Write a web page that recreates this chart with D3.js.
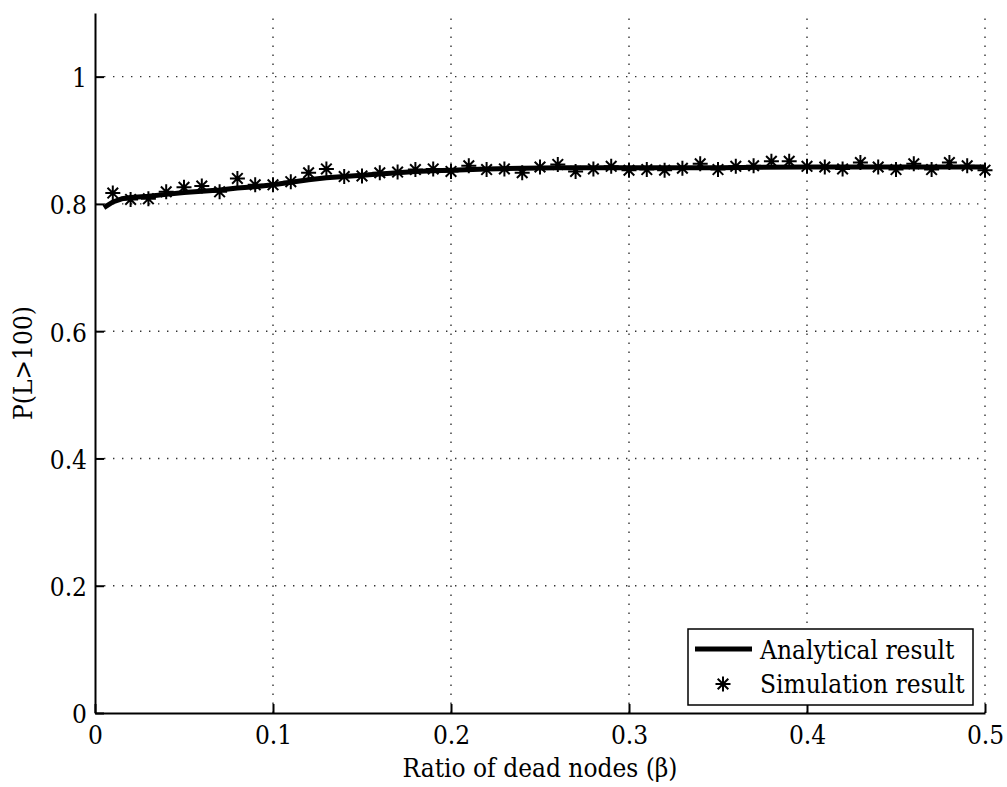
<!DOCTYPE html>
<html>
<head>
<meta charset="utf-8">
<script src="https://cdn.jsdelivr.net/npm/d3@7"></script>
<style>
  body { margin: 0; background: #fff; }
  svg text { font-stretch: condensed; }
</style>
</head>
<body>
<div id="chart"></div>
<script>
// simulation points
const simX = [0.01, 0.02, 0.03, 0.04, 0.05, 0.06, 0.07, 0.08, 0.09, 0.10,
              0.11, 0.12, 0.13, 0.14, 0.15, 0.16, 0.17, 0.18, 0.19, 0.20,
              0.21, 0.22, 0.23, 0.24, 0.25, 0.26, 0.27, 0.28, 0.29, 0.30,
              0.31, 0.32, 0.33, 0.34, 0.35, 0.36, 0.37, 0.38, 0.39, 0.40,
              0.41, 0.42, 0.43, 0.44, 0.45, 0.46, 0.47, 0.48, 0.49, 0.50];
const simY = [0.817, 0.807, 0.808, 0.819, 0.826, 0.828, 0.819, 0.840, 0.830, 0.830,
              0.835, 0.849, 0.855, 0.843, 0.844, 0.849, 0.850, 0.854, 0.855, 0.851,
              0.860, 0.854, 0.855, 0.849, 0.858, 0.862, 0.851, 0.855, 0.859, 0.853,
              0.854, 0.853, 0.856, 0.863, 0.854, 0.859, 0.860, 0.867, 0.867, 0.859,
              0.858, 0.855, 0.865, 0.858, 0.854, 0.863, 0.854, 0.865, 0.860, 0.853];

// analytical curve
const anaX = [0.005, 0.01, 0.015, 0.02, 0.03, 0.04, 0.05, 0.06, 0.07, 0.08,
              0.09, 0.10, 0.11, 0.12, 0.13, 0.14, 0.15, 0.16, 0.17, 0.18,
              0.19, 0.20, 0.22, 0.24, 0.26, 0.28, 0.30, 0.35, 0.40, 0.45, 0.50];
const anaY = [0.794, 0.803, 0.808, 0.810, 0.812, 0.815, 0.818, 0.820, 0.822, 0.825,
              0.827, 0.830, 0.834, 0.838, 0.841, 0.843, 0.845, 0.847, 0.849, 0.851,
              0.852, 0.853, 0.855, 0.856, 0.857, 0.857, 0.857, 0.857, 0.858, 0.858, 0.858];

const xTicks = [0, 0.1, 0.2, 0.3, 0.4, 0.5];
const yTicks = [0, 0.2, 0.4, 0.6, 0.8, 1];
const legendLabels = ["Analytical result", "Simulation result"];

const W = 1007, H = 787;
const FS = 26;
const FONT = '"DejaVu Serif Condensed", "DejaVu Serif", serif';

const x = d3.scaleLinear().domain([0, 0.5]).range([95, 985]);
const y = d3.scaleLinear().domain([0, 1.1]).range([713, 13]);
const fmt = d3.format("~g");

const svg = d3.select("#chart").append("svg")
    .attr("width", W)
    .attr("height", H)
    .attr("viewBox", `0 0 ${W} ${H}`)
    .attr("font-family", FONT);

// grid
const grid = svg.append("g")
    .attr("stroke", "#333")
    .attr("stroke-width", 1.4)
    .attr("stroke-dasharray", "1.4 7.6");

grid.selectAll("line.gx")
    .data(xTicks.filter(d => d > 0))
    .join("line")
    .attr("class", "gx")
    .attr("x1", d => x(d)).attr("x2", d => x(d))
    .attr("y1", y(0)).attr("y2", y(1.1));

grid.selectAll("line.gy")
    .data(yTicks.filter(d => d > 0))
    .join("line")
    .attr("class", "gy")
    .attr("x1", x(0)).attr("x2", x(0.5))
    .attr("y1", d => y(d)).attr("y2", d => y(d));

// axes
const xAxis = d3.axisBottom(x)
    .tickValues(xTicks)
    .tickFormat(fmt)
    .tickSizeInner(-9)
    .tickSizeOuter(0)
    .tickPadding(13);

const yAxis = d3.axisLeft(y)
    .tickValues(yTicks)
    .tickFormat(fmt)
    .tickSizeInner(-9)
    .tickSizeOuter(0)
    .tickPadding(8);

const gx = svg.append("g")
    .attr("transform", `translate(0,${y(0)})`)
    .call(xAxis);

const gy = svg.append("g")
    .attr("transform", `translate(${x(0)},0)`)
    .call(yAxis);

[gx, gy].forEach(g => {
    g.attr("font-family", FONT).attr("font-size", FS);
    g.selectAll("path.domain").attr("stroke", "#000").attr("stroke-width", 2);
    g.selectAll(".tick line").attr("stroke", "#000").attr("stroke-width", 2);
});
gy.selectAll(".tick text").attr("dy", "0.38em");

// axis titles
svg.append("text")
    .attr("x", (x(0) + x(0.5)) / 2)
    .attr("y", 777)
    .attr("text-anchor", "middle")
    .attr("font-size", FS)
    .text("Ratio of dead nodes (β)");

svg.append("text")
    .attr("transform", `translate(32,${y(0.55)}) rotate(-90)`)
    .attr("text-anchor", "middle")
    .attr("font-size", FS)
    .text("P(L>100)");

// analytical line
const line = d3.line()
    .x(d => x(d[0]))
    .y(d => y(d[1]));

svg.append("path")
    .datum(anaX.map((v, i) => [v, anaY[i]]))
    .attr("fill", "none")
    .attr("stroke", "#000")
    .attr("stroke-width", 5)
    .attr("stroke-linejoin", "round")
    .attr("d", line);

// asterisk marker
const star = r => {
    const a = r * Math.SQRT1_2;
    return `M${-r},0L${r},0M0,${-r}L0,${r}M${-a},${-a}L${a},${a}M${-a},${a}L${a},${-a}`;
};

svg.append("g")
    .selectAll("path")
    .data(simX.map((v, i) => [v, simY[i]]))
    .join("path")
    .attr("transform", d => `translate(${x(d[0])},${y(d[1])})`)
    .attr("d", star(7.5))
    .attr("fill", "none")
    .attr("stroke", "#000")
    .attr("stroke-width", 2);

// legend
const lg = svg.append("g");
lg.append("rect")
    .attr("x", 688).attr("y", 629)
    .attr("width", 973 - 688).attr("height", 705 - 629)
    .attr("fill", "#fff")
    .attr("stroke", "#000")
    .attr("stroke-width", 1.5);

lg.append("line")
    .attr("x1", 695).attr("x2", 752)
    .attr("y1", 649).attr("y2", 649)
    .attr("stroke", "#000")
    .attr("stroke-width", 5);

lg.append("path")
    .attr("transform", "translate(723,684)")
    .attr("d", star(7.5))
    .attr("fill", "none")
    .attr("stroke", "#000")
    .attr("stroke-width", 2);

lg.selectAll("text")
    .data(legendLabels)
    .join("text")
    .attr("x", 760)
    .attr("y", (d, i) => 659 + i * 34)
    .attr("font-size", FS)
    .text(d => d);
</script>
</body>
</html>
